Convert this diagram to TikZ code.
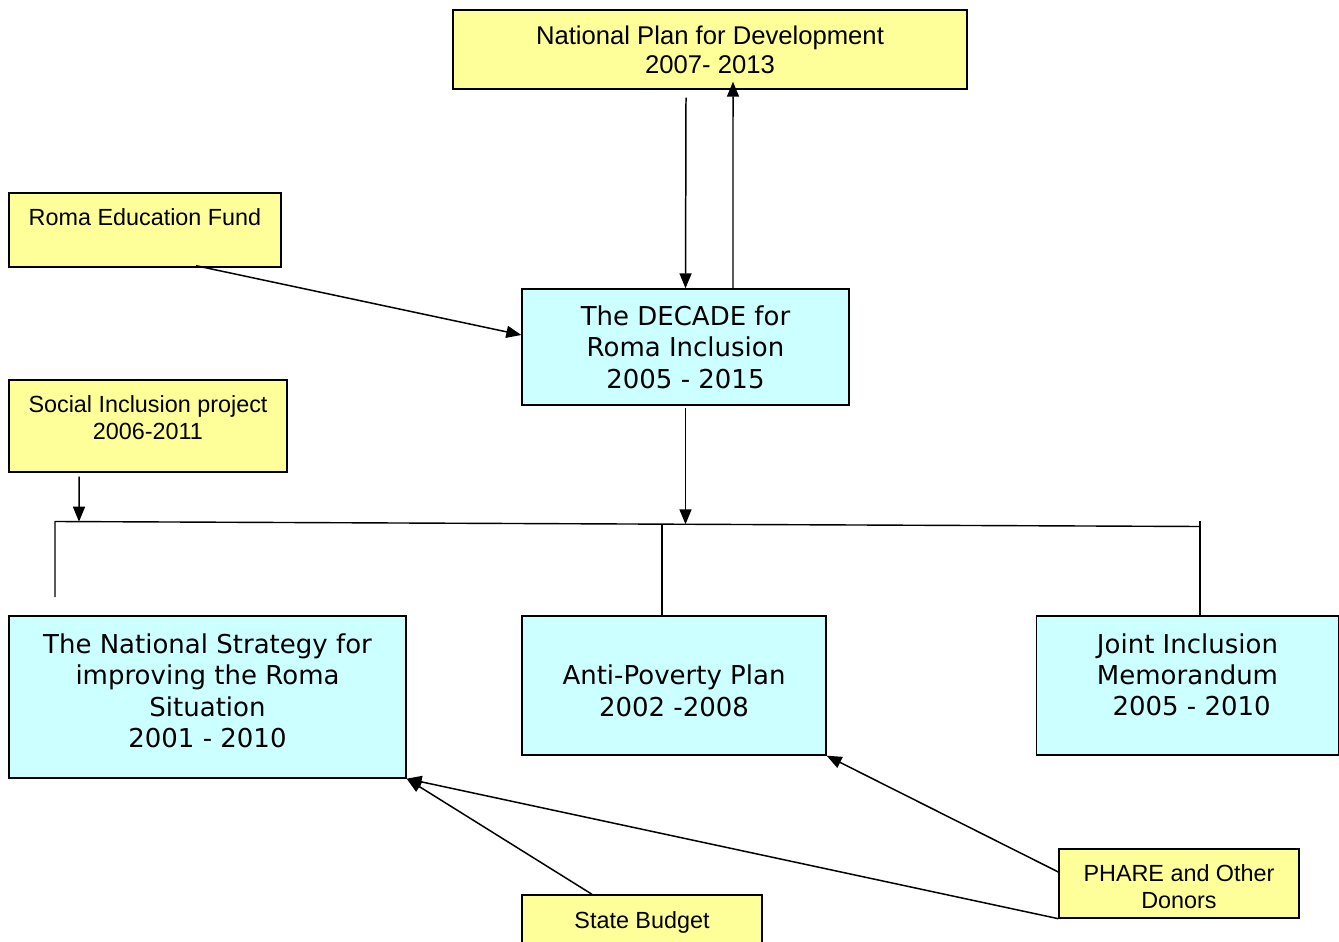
\documentclass[tikz,border=0pt]{standalone}
\usepackage{fontspec}
\setmainfont{Liberation Sans}
\newfontfamily\verdana{DejaVu Sans}
\usetikzlibrary{arrows.meta}
\definecolor{myyellow}{RGB}{255,255,153}
\definecolor{mylightblue}{RGB}{204,255,255}
\newcommand{\btext}[2]{\raisebox{\dimexpr #1-0.25em-0.07cm\relax}[0pt][0pt]{\begin{tabular}{@{}c@{}}#2\end{tabular}}}
\tikzset{
    common/.style={draw, rectangle, line width=0.8pt, inner sep=0pt},
    fund/.style={common, fill=myyellow, font=\fontsize{13.3}{15.5}\selectfont},
    plan/.style={common, fill=mylightblue, font=\verdana\fontsize{14.8}{17.9}\selectfont},
    flow/.style={-{Triangle[length=0.3cm, width=0.24cm]}, line width=0.85pt},
    link/.style={line width=0.8pt}
}

\begin{document}
\begin{tikzpicture}[x=0.02cm, y=-0.02cm]
    \useasboundingbox (0,0) rectangle (1339,942);
    % plans and funds
    \node[fund, minimum width=10.28cm, minimum height=1.58cm, font=\fontsize{14.6}{16.5}\selectfont] (NPD) at (710,49.5) {\btext{0cm}{National Plan for Development\\2007- 2013}};
    \node[fund, minimum width=5.44cm, minimum height=1.48cm] (REF) at (145,230) {\btext{0.26cm}{Roma Education Fund}};
    \node[plan, minimum width=6.54cm, minimum height=2.32cm] (DECADE) at (685.5,347) {\btext{0cm}{The DECADE for\\Roma Inclusion\\2005 - 2015}};
    \node[fund, minimum width=5.56cm, minimum height=1.84cm] (SIP) at (148,426) {\btext{0.17cm}{Social Inclusion project\\2006-2011}};
    \node[plan, minimum width=7.94cm, minimum height=3.24cm] (NS) at (207.5,697) {\btext{0.13cm}{The National Strategy for\\improving the Roma\\Situation\\2001 - 2010}};
    \node[plan, minimum width=6.08cm, minimum height=2.78cm] (AP) at (674,685.5) {\btext{-0.1cm}{Anti-Poverty Plan\\2002 -2008}};
    \node[plan, minimum width=6.04cm, minimum height=2.78cm] (JIM) at (1187.5,685.5) {\btext{0.22cm}{Joint Inclusion\\Memorandum\\\ 2005 - 2010}};
    \node[fund, minimum width=4.8cm, minimum height=1.38cm] (PHARE) at (1179,883.5) {\btext{-0.06cm}{PHARE and Other\\Donors}};
    \node[fund, minimum width=4.8cm, minimum height=1.38cm] (SB) at (642,929.5) {\btext{0.19cm}{State Budget}};

    % the bar under the DECADE
    \coordinate (barL) at (55,521.5);
    \coordinate (barR) at (1200,526.5);
    \coordinate (barSIP) at (79,521.7);
    \coordinate (barDEC) at (685.5,524.3);
    \coordinate (barAP) at (662,524.2);
    \coordinate (barJIM) at (1200,521);
    \coordinate (barEnd) at (55,597);

    \draw[flow] ([xshift=-0.48cm, yshift=-0.16cm]NPD.south) -- (DECADE.north);
    \draw[flow] ([xshift=0.95cm]DECADE.north) -- ([xshift=0.46cm, yshift=0.16cm]NPD.south);
    \draw[flow] ([xshift=1.02cm, yshift=0.04cm]REF.south) -- ([yshift=0.24cm]DECADE.west);
    \draw[flow] ([xshift=-1.38cm, yshift=-0.08cm]SIP.south) -- (barSIP);
    \draw[flow] ([yshift=-0.04cm]DECADE.south) -- (barDEC);
    \draw[link] (barEnd) -- (barL) -- (barR);
    \draw[link] (barAP) -- (barAP |- AP.north);
    \draw[link] (barJIM) -- (barJIM |- JIM.north);

    \draw[flow] ([xshift=-1cm]SB.north) -- (NS.south east);
    \draw[flow] (PHARE.south west) -- (NS.south east);
    \draw[flow] ([yshift=0.23cm]PHARE.west) -- (AP.south east);
\end{tikzpicture}
\end{document}
